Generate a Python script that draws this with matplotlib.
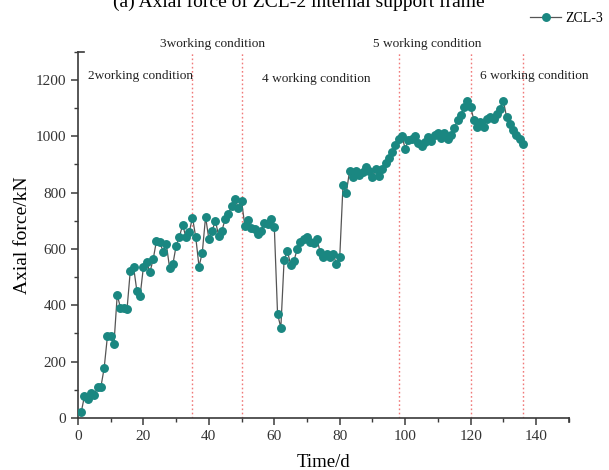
# axial force of support frame ZCL-3 vs time, with working-condition markers

import matplotlib
matplotlib.use("Agg")
import matplotlib.pyplot as plt
from matplotlib.ticker import MultipleLocator

days = list(range(1, 137))
axial_force = [
    20, 78, 66, 88, 81, 109, 109, 176, 289, 289,
    262, 436, 391, 391, 386, 523, 535, 451, 434, 535,
    552, 517, 564, 629, 625, 590, 617, 533, 545, 611,
    643, 685, 641, 659, 711, 641, 537, 587, 714, 635,
    665, 699, 647, 665, 706, 724, 753, 778, 744, 771,
    681, 702, 673, 669, 652, 665, 691, 688, 705, 679,
    368, 320, 561, 593, 543, 557, 599, 623, 634, 643,
    626, 620, 635, 590, 570, 582, 570, 582, 545, 570,
    827, 798, 877, 856, 877, 862, 874, 889, 877, 856,
    882, 859, 882, 906, 921, 945, 969, 989, 1000, 956,
    986, 989, 1000, 977, 965, 980, 998, 983, 1004, 1012,
    992, 1010, 989, 1004, 1028, 1057, 1074, 1104, 1126, 1104,
    1057, 1034, 1051, 1034, 1060, 1069, 1060, 1078, 1098, 1126,
    1067, 1042, 1022, 1004, 989, 971,
]

stage_days = [35, 50, 98, 120, 136]
stage_labels = [
    "2working condition",
    "3working condition",
    "4 working condition",
    "5 working condition",
    "6 working condition",
]
stage_label_pos = [(3.2, 1214), (25.1, 1327), (56.3, 1203), (90.1, 1327), (122.8, 1214)]

SERIF = ["Liberation Serif", "DejaVu Serif"]
TEAL = "#1a8781"
AXIS = "#3a3a3a"

plt.rcParams["font.family"] = SERIF

fig = plt.figure(figsize=(6.09, 4.70), dpi=100)
ax = fig.add_axes([0.128, 0.111, 0.806, 0.779])

for d in stage_days:
    ax.axvline(d, color="#f07a7a", lw=1.0, ls=(0, (1.2, 1.8)), zorder=1)

ax.plot(days, axial_force, color="#555555", lw=0.9, marker="o", ms=5.4,
        mfc=TEAL, mec=TEAL, zorder=3, label="ZCL-3")

for (x, y), txt in zip(stage_label_pos, stage_labels):
    ax.text(x, y, txt, fontsize=9.6, va="center", ha="left", color="#222222",
            clip_on=False)

ax.set_xlim(0, 150)
ax.set_ylim(0, 1300)
ax.xaxis.set_major_locator(MultipleLocator(20))
ax.xaxis.set_minor_locator(MultipleLocator(10))
ax.yaxis.set_major_locator(MultipleLocator(200))
ax.yaxis.set_minor_locator(MultipleLocator(100))
ax.set_xticks([0, 20, 40, 60, 80, 100, 120, 140])

for side in ("top", "right"):
    ax.spines[side].set_visible(False)
for side in ("left", "bottom"):
    ax.spines[side].set_color(AXIS)
    ax.spines[side].set_linewidth(1.2)

ax.tick_params(which="major", direction="out", length=5, width=1.1, color=AXIS,
               labelsize=11, labelcolor="#333333")
ax.tick_params(which="minor", direction="out", length=3, width=1.0, color=AXIS)

# end caps like the original (Origin style)
ax.plot([0, 0.012], [1, 1], transform=ax.transAxes, color=AXIS, lw=1.2, clip_on=False)
ax.plot([1, 1], [0, -0.012], transform=ax.transAxes, color=AXIS, lw=1.2, clip_on=False)

ax.set_xlabel("Time/d", fontsize=13.5, labelpad=8)
ax.set_ylabel("Axial force/kN", fontsize=14, labelpad=3)

# the original figure has its caption cropped at the top edge
fig.text(0.49, 1 - 7 / 470, "(a) Axial force of ZCL-2 internal support frame",
         fontsize=14, ha="center", va="baseline")

ax.legend(loc="center right", bbox_to_anchor=(0.99, 1 - 18 / 470),
          bbox_transform=fig.transFigure, frameon=False, fontsize=10,
          handlelength=2.2, handletextpad=0.3, borderpad=0, borderaxespad=0)

fig.savefig("out.png", dpi=100)
